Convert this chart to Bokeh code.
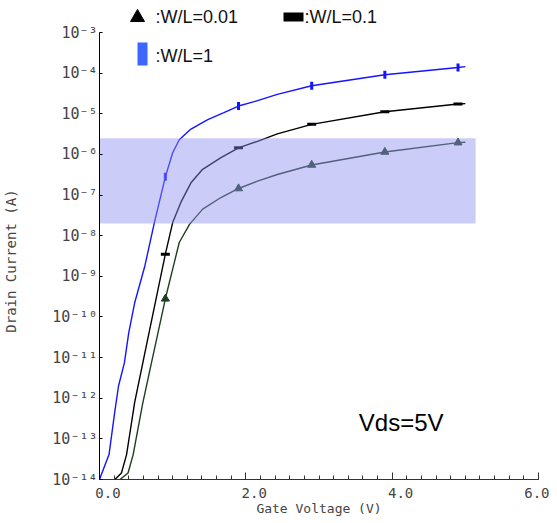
import numpy as np
from bokeh.plotting import figure
from bokeh.models import FixedTicker, CustomJSTickFormatter, Label
from bokeh.embed import file_html
from bokeh.resources import INLINE

# ---------------- data ----------------
# W/L = 1 (blue)
vg_wl1 = [0.00, 0.13, 0.21, 0.26, 0.34, 0.40, 0.48, 0.62, 0.75, 0.90, 1.00, 1.09,
          1.25, 1.48, 1.70, 1.90, 2.16, 2.43, 2.90, 3.90, 4.90, 5.00]
id_wl1 = [1.0e-14, 4.1e-14, 4.8e-13, 2.0e-12, 7.4e-12, 4.1e-11, 2.2e-10, 1.8e-9,
          2.1e-8, 2.8e-7, 1.1e-6, 2.3e-6, 4.2e-6, 7.2e-6, 1.07e-5, 1.55e-5, 2.1e-5,
          3.0e-5, 4.9e-5, 9.1e-5, 1.38e-4, 1.45e-4]
# W/L = 0.1 (black)
vg_wl01 = [0.21, 0.30, 0.37, 0.48, 0.62, 0.80, 0.90, 1.00, 1.12, 1.25, 1.41, 1.66,
           1.90, 2.16, 2.43, 2.90, 3.90, 4.90, 5.00]
id_wl01 = [1.0e-14, 1.45e-14, 4.1e-14, 7.8e-13, 1.3e-11, 4.8e-10, 3.5e-9, 2.1e-8,
           7.1e-8, 2.0e-7, 4.3e-7, 8.3e-7, 1.45e-6, 2.1e-6, 3.2e-6, 5.5e-6, 1.12e-5,
           1.74e-5, 1.78e-5]
# W/L = 0.01 (dark green, triangles)
vg_wl001 = [0.28, 0.39, 0.46, 0.59, 0.71, 0.80, 0.90, 1.00, 1.09, 1.23, 1.41, 1.66,
            1.90, 2.16, 2.43, 2.90, 3.90, 4.90, 5.00]
id_wl001 = [1.0e-14, 1.45e-14, 4.1e-14, 7.4e-13, 7.4e-12, 4.1e-11, 2.8e-10, 1.5e-9,
            6.8e-9, 1.9e-8, 4.5e-8, 8.7e-8, 1.45e-7, 2.2e-7, 3.2e-7, 5.5e-7, 1.15e-6,
            1.95e-6, 2.0e-6]
# marker points
vg_marks = [0.9, 1.9, 2.9, 3.9, 4.9]
id_marks_wl1 = [2.8e-7, 1.55e-5, 4.9e-5, 9.1e-5, 1.38e-4]
id_marks_wl01 = [3.5e-9, 1.45e-6, 5.5e-6, 1.12e-5, 1.74e-5]
id_marks_wl001 = [2.8e-10, 1.45e-7, 5.5e-7, 1.15e-6, 1.95e-6]
# shaded band
band_vg = [0.0, 5.14]
band_id = [2.0e-8, 2.5e-6]

# axes
x_ticks = [0, 2, 4, 6]
x_tick_labels = ["0.0", "2.0", "4.0", "6.0"]
y_exponents = [-14, -13, -12, -11, -10, -9, -8, -7, -6, -5, -4, -3]
y_tick_labels = ["10\u207b\u00b9\u2074", "10\u207b\u00b9\u00b3", "10\u207b\u00b9\u00b2",
                 "10\u207b\u00b9\u00b9", "10\u207b\u00b9\u2070", "10\u207b\u2079",
                 "10\u207b\u2078", "10\u207b\u2077", "10\u207b\u2076", "10\u207b\u2075",
                 "10\u207b\u2074", "10\u207b\u00b3"]

legend_texts = [":W/L=0.01", ":W/L=0.1", ":W/L=1"]
annotation_text = "Vds=5V"
x_title = "Gate Voltage (V)"
y_title = "Drain Current (A)"

# ---------------- layout ----------------
PAGE_MARGIN = 8
FRAME_W, FRAME_H = 439, 479           # frame spans page y 8..487
TOP_PAD = 32                          # px between frame top and the 1e-3 decade
PX_PER_DEC = (FRAME_H - TOP_PAD) / 11.0
y_top = 10.0 ** (-3 + TOP_PAD / PX_PER_DEC)
NB = "\u00a0"

p = figure(frame_width=FRAME_W, frame_height=FRAME_H, output_backend="svg",
           toolbar_location=None, x_range=(0, 6), y_range=(1e-14, y_top),
           y_axis_type="log", min_border_left=91, min_border_right=11,
           min_border_top=0, min_border_bottom=34)
p.outline_line_color = None
p.xgrid.visible = False
p.ygrid.visible = False
p.background_fill_color = "white"
p.border_fill_color = "white"

# curves
p.line(vg_wl1, id_wl1, line_color="#1414ff", line_width=1.4)
p.line(vg_wl01, id_wl01, line_color="#000000", line_width=1.4)
p.line(vg_wl001, id_wl001, line_color="#1f3d1f", line_width=1.4)

# markers
p.rect(vg_marks, id_marks_wl1, width=3, height=8, width_units="screen",
       height_units="screen", fill_color="#1414ff", line_color=None)
p.rect(vg_marks, id_marks_wl01, width=9, height=3, width_units="screen",
       height_units="screen", fill_color="#000000", line_color=None)
p.scatter(vg_marks, id_marks_wl001, marker="triangle", size=8,
          fill_color="#1f3d1f", line_color="#1f3d1f")

# shaded band (drawn over the curves)
p.quad(left=band_vg[0], right=band_vg[1], bottom=band_id[0], top=band_id[1],
       fill_color="#8d8def", fill_alpha=0.45, line_color=None)

# axes styling
mono = "DejaVu Sans Mono"
xa = p.xaxis[0]
xa.ticker = FixedTicker(ticks=x_ticks,
                        minor_ticks=list(np.round(np.arange(0, 6.01, 0.2), 2)))
# labels sit just right of their ticks in the original
xa.major_label_overrides = {t: NB * 2 + l for t, l in zip(x_ticks, x_tick_labels)}
xa.axis_label = x_title
xa.axis_label_text_font = mono
xa.axis_label_text_font_style = "normal"
xa.axis_label_text_font_size = "13px"
xa.axis_label_standoff = -3
xa.major_label_text_font = mono
xa.major_label_text_font_size = "14px"
xa.major_label_standoff = 5
xa.major_tick_in = 7
xa.major_tick_out = 0
xa.minor_tick_in = 4
xa.minor_tick_out = 0
xa.axis_line_color = "#333333"
xa.major_tick_line_color = "#333333"
xa.minor_tick_line_color = "#333333"

ya = p.yaxis[0]
ya.bounds = (1e-14, 1e-3)
ya.ticker = FixedTicker(ticks=[10.0 ** e for e in y_exponents], minor_ticks=[])
ya.formatter = CustomJSTickFormatter(args=dict(exps=y_exponents, labels=y_tick_labels), code="""
    const e = Math.round(Math.log10(tick));
    const i = exps.indexOf(e);
    return i >= 0 ? labels[i] : "";
""")
# trailing padding moves the centred title down to the middle of the decade axis
ya.axis_label = y_title + NB * 5
ya.axis_label_text_font = mono
ya.axis_label_text_font_style = "normal"
ya.axis_label_text_font_size = "14px"
ya.axis_label_standoff = 30
ya.major_label_text_font = mono
ya.major_label_text_font_size = "15px"
ya.major_label_standoff = 2
ya.major_label_text_baseline = "bottom"
ya.major_tick_in = 3
ya.major_tick_out = 0
ya.minor_tick_in = 0
ya.minor_tick_out = 0
ya.axis_line_color = "#000000"
ya.major_tick_line_color = "#000000"


# legend (decorative; window-pixel positions converted to data space)
def vx(px):
    return (px - 99) * 6.0 / FRAME_W


def vy(py):
    return 10.0 ** (-3 - (py - 40) / PX_PER_DEC)


p.scatter([vx(137)], [vy(25)], marker="triangle", size=14,
          fill_color="#000000", line_color="#000000")
p.rect([vx(293)], [vy(24.5)], width=20, height=9, width_units="screen",
       height_units="screen", fill_color="#000000", line_color=None)
p.rect([vx(142)], [vy(61.5)], width=10, height=23, width_units="screen",
       height_units="screen", fill_color="#3b66ff", line_color=None)

lab_font = "Liberation Sans"
for (lx, ly), txt in zip([(155, 24), (304, 24), (155, 63)], legend_texts):
    p.add_layout(Label(x=vx(lx), y=vy(ly), text=txt, text_font=lab_font,
                       text_font_size="18px", text_color="#111111",
                       text_align="left", text_baseline="middle"))
p.add_layout(Label(x=vx(443), y=vy(430), text=annotation_text, text_font=lab_font,
                   text_font_size="24px", text_color="#000000",
                   text_align="right", text_baseline="alphabetic"))

open("out.html", "w").write(file_html(p, INLINE))
